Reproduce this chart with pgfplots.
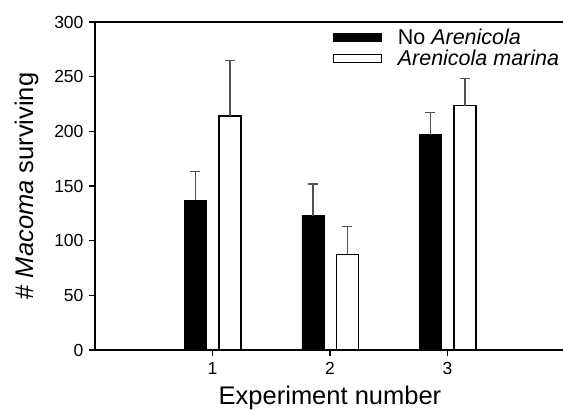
\documentclass[border=0pt]{standalone}
\usepackage{fontspec}
\setmainfont{Liberation Sans}
\usepackage{pgfplots}
\pgfplotsset{compat=1.18}
\definecolor{errgray}{RGB}{80,80,80}
\begin{document}
\begin{tikzpicture}[x=1pt,y=1pt]
\begin{axis}[
  at={(95pt,-350pt)}, anchor=south west,
  scale only axis, width=470pt, height=328pt,
  xmin=0, xmax=4, ymin=0, ymax=300,
  axis x line*=box, axis y line*=left,
  axis line style={line width=1.1pt},
  xtick={1,2,3}, ytick={0,50,100,150,200,250,300},
  tick pos=left, tick align=outside,
  major tick length=6pt,
  tick style={line width=1.1pt, black},
  /pgf/number format/assume math mode=true,
  every tick label/.append style={font=\fontsize{17.5}{20}\selectfont},
  xticklabel style={yshift=-3pt},
  yticklabel style={xshift=-2pt},
  xlabel={Experiment number},
  ylabel={\# \textit{Macoma} surviving},
  label style={font=\fontsize{25.5}{28}\selectfont},
  xlabel style={yshift=-4pt},
  ylabel style={yshift=9pt},
  ybar, bar width=22pt,
  legend style={at={(0.506,0.982)}, anchor=north west, draw=none, fill=none,
    font=\fontsize{21.5}{24}\selectfont, row sep=2pt, inner sep=0pt,
    nodes={inner sep=1pt},
    /tikz/every odd column/.append style={column sep=15pt}},
  legend cell align=left,
  legend image code/.code={\draw[#1, line width=0.8pt] (0pt,-4pt) rectangle (48pt,4pt);},
  error bars/y dir=plus, error bars/y explicit,
  error bars/error bar style={errgray, line width=1.4pt},
  error bars/error mark options={errgray, line width=1.4pt, rotate=90, mark size=5pt},
]
\addplot[bar shift=-17pt, fill=black, draw=black, line width=0.8pt]
  coordinates {(1,137) +- (0,26) (2,123) +- (0,29) (3,197) +- (0,20)};
\addlegendentry{No \textit{Arenicola}}
\addplot[bar shift=17.5pt, fill=white, draw=black, line width=1.3pt]
  coordinates {(1,214) +- (0,51) (2,87.5) +- (0,25.5) (3,223.5) +- (0,25)};
\addlegendentry{\textit{Arenicola marina}}
\end{axis}
\pgfresetboundingbox
\useasboundingbox (0,0) rectangle (563pt,-410pt);
\end{tikzpicture}
\end{document}
